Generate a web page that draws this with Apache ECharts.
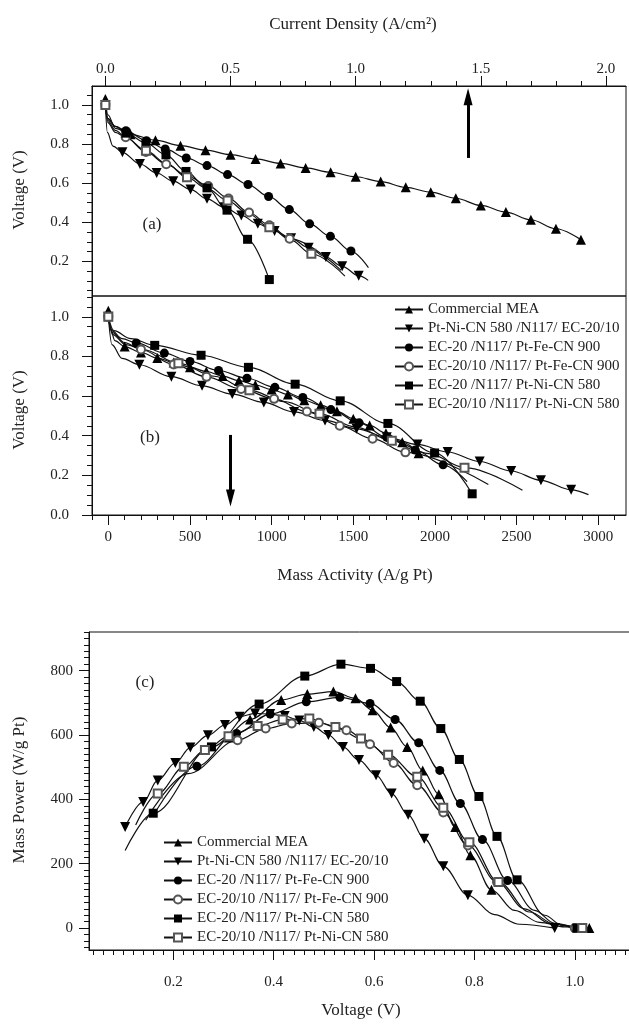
<!DOCTYPE html>
<html><head><meta charset="utf-8">
<script src="https://cdn.jsdelivr.net/npm/echarts@6/dist/echarts.min.js"></script>
<style>html,body{margin:0;padding:0;background:#fff}#c{width:629px;height:1024px}</style>
</head><body><div id="c"></div>
<script>
// ---------------- DATA ----------------
const names = ['Commercial MEA','Pt-Ni-CN 580 /N117/ EC-20/10','EC-20 /N117/ Pt-Fe-CN 900','EC-20/10 /N117/ Pt-Fe-CN 900','EC-20 /N117/ Pt-Ni-CN 580','EC-20/10 /N117/ Pt-Ni-CN 580'];

// panels (a) and (b): current density (A/cm2), mass activity (A/g Pt), voltage (V)
const cmJ = [0,0.01,0.04,0.1,0.2,0.3,0.4,0.5,0.6,0.7,0.8,0.9,1.0,1.1,1.2,1.3,1.4,1.5,1.6,1.7,1.8,1.9];
const cmM = [0,10,40,100,200,300,400,500,600,700,800,900,1000,1100,1200,1300,1400,1500,1600,1700,1800,1900];
const cmV = [1.03,0.95,0.88,0.85,0.82,0.792,0.769,0.746,0.724,0.701,0.678,0.656,0.633,0.608,0.579,0.554,0.523,0.486,0.452,0.413,0.367,0.311];
const cmPlain = [1,2];

const pnJ = [0,0.008,0.03,0.068,0.138,0.205,0.271,0.34,0.406,0.474,0.543,0.609,0.676,0.742,0.812,0.881,0.946,1.012,1.05];
const pnM = [0,22,84,190,386,574,759,952,1137,1327,1520,1705,1893,2078,2274,2467,2649,2834,2940];
const pnV = [1.0,0.86,0.79,0.758,0.698,0.652,0.610,0.568,0.520,0.477,0.435,0.392,0.356,0.318,0.270,0.222,0.175,0.127,0.103];
const pnPlain = [1,2,18];

const efJ = [0,0.01,0.04,0.082,0.164,0.239,0.323,0.406,0.488,0.570,0.652,0.735,0.816,0.899,0.981,1.051];
const efM = [0,21,84,171,343,500,675,849,1020,1191,1363,1536,1705,1879,2050,2197];
const efV = [1.0,0.93,0.89,0.868,0.817,0.775,0.729,0.690,0.644,0.593,0.532,0.465,0.392,0.328,0.253,0.168];
const efPlain = [1,2,15];

const eoJ = [0,0.01,0.04,0.081,0.162,0.243,0.329,0.411,0.492,0.574,0.655,0.736,0.942];
const eoM = [0,25,99,200,400,601,813,1015,1216,1417,1618,1819,2327];
const eoV = [1.0,0.92,0.87,0.835,0.76,0.697,0.636,0.586,0.522,0.45,0.385,0.316,0.154];
const eoPlain = [1,2,12];

const nfJ = [0,0.01,0.04,0.082,0.162,0.242,0.322,0.406,0.486,0.568,0.655];
const nfM = [0,34,138,284,568,858,1144,1420,1712,1998,2228];
const nfV = [1.0,0.93,0.89,0.856,0.806,0.745,0.660,0.576,0.462,0.313,0.107];
const nfPlain = [1,2];

const noJ = [0,0.01,0.04,0.08,0.162,0.245,0.326,0.407,0.488,0.57,0.655,0.74,0.823,0.957];
const noM = [0,27,106,212,429,649,864,1079,1293,1511,1736,1961,2181,2536];
const noV = [1.0,0.91,0.86,0.835,0.766,0.70,0.630,0.572,0.511,0.445,0.375,0.31,0.239,0.125];
const noPlain = [1,2,3,5,7,9,11,13];

// panel (c): voltage (V) vs mass power (W/g Pt)
const cmVc = [0.311,0.353,0.415,0.467,0.519,0.563,0.597,0.633,0.666,0.697,0.729,0.762,0.792,0.834,0.88,0.93,0.98,1.029];
const cmP  = [592,648,709,727,735,714,677,623,563,490,416,314,226,119,55,18,4,0];
const cmPlainC = [14,15,16];

const pnVc = [0.104,0.140,0.169,0.204,0.234,0.269,0.303,0.332,0.363,0.393,0.422,0.451,0.480,0.509,0.538,0.570,0.604,0.635,0.668,0.700,0.738,0.787,0.84,0.89,0.960];
const pnP  = [314,392,459,513,561,599,631,657,667,665,659,645,625,600,563,522,475,418,352,278,192,102,42,12,0];
const pnPlainC = [22,23];

const efVc = [0.168,0.247,0.326,0.393,0.465,0.532,0.592,0.642,0.689,0.731,0.772,0.816,0.866,0.92,0.96,1.0];
const efP  = [370,503,605,665,703,717,698,648,576,490,387,275,148,55,15,0];
const efPlainC = [0,13,14];

const eoVc = [0.145,0.23,0.328,0.384,0.436,0.490,0.545,0.592,0.639,0.686,0.738,0.787,0.845,0.9,0.95,1.0];
const eoP  = [335,480,584,620,636,638,615,571,513,444,359,257,143,60,15,0];
const eoPlainC = [0,1,13,14];

const nfVc = [0.104,0.160,0.276,0.371,0.462,0.534,0.593,0.645,0.692,0.733,0.770,0.809,0.845,0.885,0.94,0.975,1.004,1.015];
const nfP  = [241,357,563,696,783,820,807,766,705,620,524,409,285,150,40,8,0,0];
const nfPlainC = [0,14,15];

const noVc = [0.125,0.169,0.221,0.263,0.310,0.368,0.418,0.471,0.523,0.574,0.628,0.686,0.738,0.790,0.848,0.91,0.96,1.015];
const noP  = [320,418,501,553,596,628,648,651,625,589,539,470,374,267,143,50,12,0];
const noPlainC = [0,15,16];

// tick labels
const topTicks = [0,0.5,1.0,1.5,2.0];
const aYTicks = [0.2,0.4,0.6,0.8,1.0];
const bYTicks = [0,0.2,0.4,0.6,0.8,1.0];
const bXTicks = [0,500,1000,1500,2000,2500,3000];
const cYTicks = [0,200,400,600,800];
const cXTicks = [0.2,0.4,0.6,0.8,1.0];

// annotation values
const arrowA = {x:1.449, from:0.729, to:1.042};
const arrowB = {x:748, from:0.404, to:0.086};

// ---------------- CHART ----------------
const FONT = '"Liberation Serif", "Times New Roman", serif';
const chart = echarts.init(document.getElementById('c'), null, {renderer:'canvas', width:629, height:1024});

function range(a, b, step, skip) {
  const out = []; const n = Math.round((b - a) / step);
  for (let i = 0; i <= n; i++) {
    const v = +(a + i * step).toFixed(6);
    if (!skip || !skip.some(s => Math.abs(s - v) < 1e-9)) out.push(v);
  }
  return out;
}
const ext = {aX:[-0.0535,2.08], aY:[0.023,1.097], bX:[-100,3170], bY:[0,1.105], cX:[0.032,1.12], cY:[-68,920]};
const minors = {
  aX: range(0.1, 2.0, 0.1, topTicks),
  aY: range(0.05, 1.05, 0.05, aYTicks),
  bX: range(-100, 3100, 100, bXTicks),
  bY: range(0.05, 1.1, 0.05, bYTicks),
  cX: range(0.04, 1.1, 0.02, cXTicks),
  cY: range(-60, 920, 20, cYTicks)
};
const f1 = v => v.toFixed(1);
const f0 = v => String(Math.round(v));

function mainAxis(grid, pos, e, ticks, fmt, margin) {
  return {type:'value', gridIndex:grid, position:pos, min:e[0], max:e[1],
    axisLine:{show:true, onZero:false, lineStyle:{color:'#111', width:1}},
    axisTick:{show:true, inside:false, length:10, customValues:ticks, lineStyle:{color:'#111', width:1}},
    axisLabel:{show:true, customValues:ticks, formatter:fmt, margin:margin, color:'#222', fontFamily:FONT, fontSize:15},
    splitLine:{show:false}, minorTick:{show:false}};
}
function minorAxis(grid, pos, e, ticks) {
  return {type:'value', gridIndex:grid, position:pos, min:e[0], max:e[1],
    axisLine:{show:false, onZero:false},
    axisTick:{show:true, inside:false, length:5, customValues:ticks, lineStyle:{color:'#111', width:1}},
    axisLabel:{show:false}, splitLine:{show:false}};
}
const rA = {left:92, top:86, width:534, height:210};
const rB = {left:92, top:296, width:534, height:219};
const rC = {left:89, top:632, width:546, height:318};
function grid(r, show) {
  return Object.assign({show:show, borderColor:'#111', borderWidth:1, backgroundColor:'transparent', containLabel:false, outerBoundsMode:'none'}, r);
}

const symbols = ['triangle','path://M0,0L10,0L5,9Z','circle','emptyCircle','rect','emptyRect'];
const symSize = [10,10,9,8,9,8];
const symColor = ['#000','#000','#000','#555','#000','#555'];
const symBorder = [0,0,0,1.2,0,1.2];

function pts(xs, ys, plain) {
  return xs.map((x, i) => plain.indexOf(i) >= 0 ? {value:[x, ys[i]], symbol:'none'} : [x, ys[i]]);
}
const setsAB = [
  [cmJ, cmM, cmV, cmPlain], [pnJ, pnM, pnV, pnPlain], [efJ, efM, efV, efPlain],
  [eoJ, eoM, eoV, eoPlain], [nfJ, nfM, nfV, nfPlain], [noJ, noM, noV, noPlain]
];
const setsC = [
  [cmVc, cmP, cmPlainC], [pnVc, pnP, pnPlainC], [efVc, efP, efPlainC],
  [eoVc, eoP, eoPlainC], [nfVc, nfP, nfPlainC], [noVc, noP, noPlainC]
];

function lineSeries(i, xi, data) {
  return {type:'line', name:names[i], xAxisIndex:xi, yAxisIndex:xi, data:data,
    symbol:symbols[i], symbolSize:symSize[i], showAllSymbol:true,
    smooth:0.35, smoothMonotone:'x', clip:false,
    lineStyle:{color:'#111', width:1.2},
    itemStyle:{color:symColor[i], borderColor:symColor[i], borderWidth:symBorder[i]},
    emphasis:{disabled:true}, animation:false, z: 3};
}
const series = [];
for (let i = 0; i < 6; i++) {
  const [J, M, V, pl] = setsAB[i];
  series.push(lineSeries(i, 0, pts(J, V, pl)));
  series.push(lineSeries(i, 1, pts(M, V, pl)));
  const [vc, p, plc] = setsC[i];
  series.push(lineSeries(i, 2, pts(vc, p, plc)));
}
const arrowStyle = {symbol:['none','triangle'], symbolSize:[9,17], silent:true, animation:false,
  lineStyle:{color:'#000', width:3, type:'solid'}, label:{show:false}};
series[0].markLine = Object.assign({data:[[{coord:[arrowA.x, arrowA.from]}, {coord:[arrowA.x, arrowA.to]}]]}, arrowStyle);
series[1].markLine = Object.assign({data:[[{coord:[arrowB.x, arrowB.from]}, {coord:[arrowB.x, arrowB.to]}]]}, arrowStyle);

const legendBase = {orient:'vertical', data:names, itemWidth:28, itemHeight:10, itemGap:4, selectedMode:false,
  textStyle:{fontFamily:FONT, fontSize:15, color:'#222'}};

function txt(text, x, y, size, rot) {
  return {type:'text', x:x, y:y, rotation:rot || 0, silent:true,
    style:{text:text, align:'center', verticalAlign:'middle', font:size + 'px "Liberation Serif"', fill:'#222'}};
}

chart.setOption({
  animation:false,
  backgroundColor:'#fff',
  grid:[grid(rA,true), grid(rB,true), grid(rC,true), grid(rA,false), grid(rB,false), grid(rC,false)],
  xAxis:[
    mainAxis(0,'top',ext.aX,topTicks,f1,9),
    mainAxis(1,'bottom',ext.bX,bXTicks,f0,15),
    mainAxis(2,'bottom',ext.cX,cXTicks,f1,25),
    minorAxis(3,'top',ext.aX,minors.aX),
    minorAxis(4,'bottom',ext.bX,minors.bX),
    minorAxis(5,'bottom',ext.cX,minors.cX)
  ],
  yAxis:[
    mainAxis(0,'left',ext.aY,aYTicks,f1,23),
    mainAxis(1,'left',ext.bY,bYTicks,f1,23),
    mainAxis(2,'left',ext.cY,cYTicks,f0,16),
    minorAxis(3,'left',ext.aY,minors.aY),
    minorAxis(4,'left',ext.bY,minors.bY),
    minorAxis(5,'left',ext.cY,minors.cY)
  ],
  legend:[
    Object.assign({left:389, top:297}, legendBase),
    Object.assign({left:158, top:830}, legendBase)
  ],
  graphic:[
    txt('Current Density (A/cm\u00B2)', 353, 25, 17),
    txt('Mass Activity (A/g Pt)', 355, 576, 17),
    txt('Voltage (V)', 361, 1011, 17),
    txt('Voltage (V)', 20, 190, 17, Math.PI/2),
    txt('Voltage (V)', 20, 410, 17, Math.PI/2),
    txt('Mass Power (W/g Pt)', 20, 790, 17, Math.PI/2),
    txt('(a)', 152, 225, 17),
    txt('(b)', 150, 438, 17),
    txt('(c)', 145, 683, 17)
  ],
  series:series
});
</script>
</body></html>
